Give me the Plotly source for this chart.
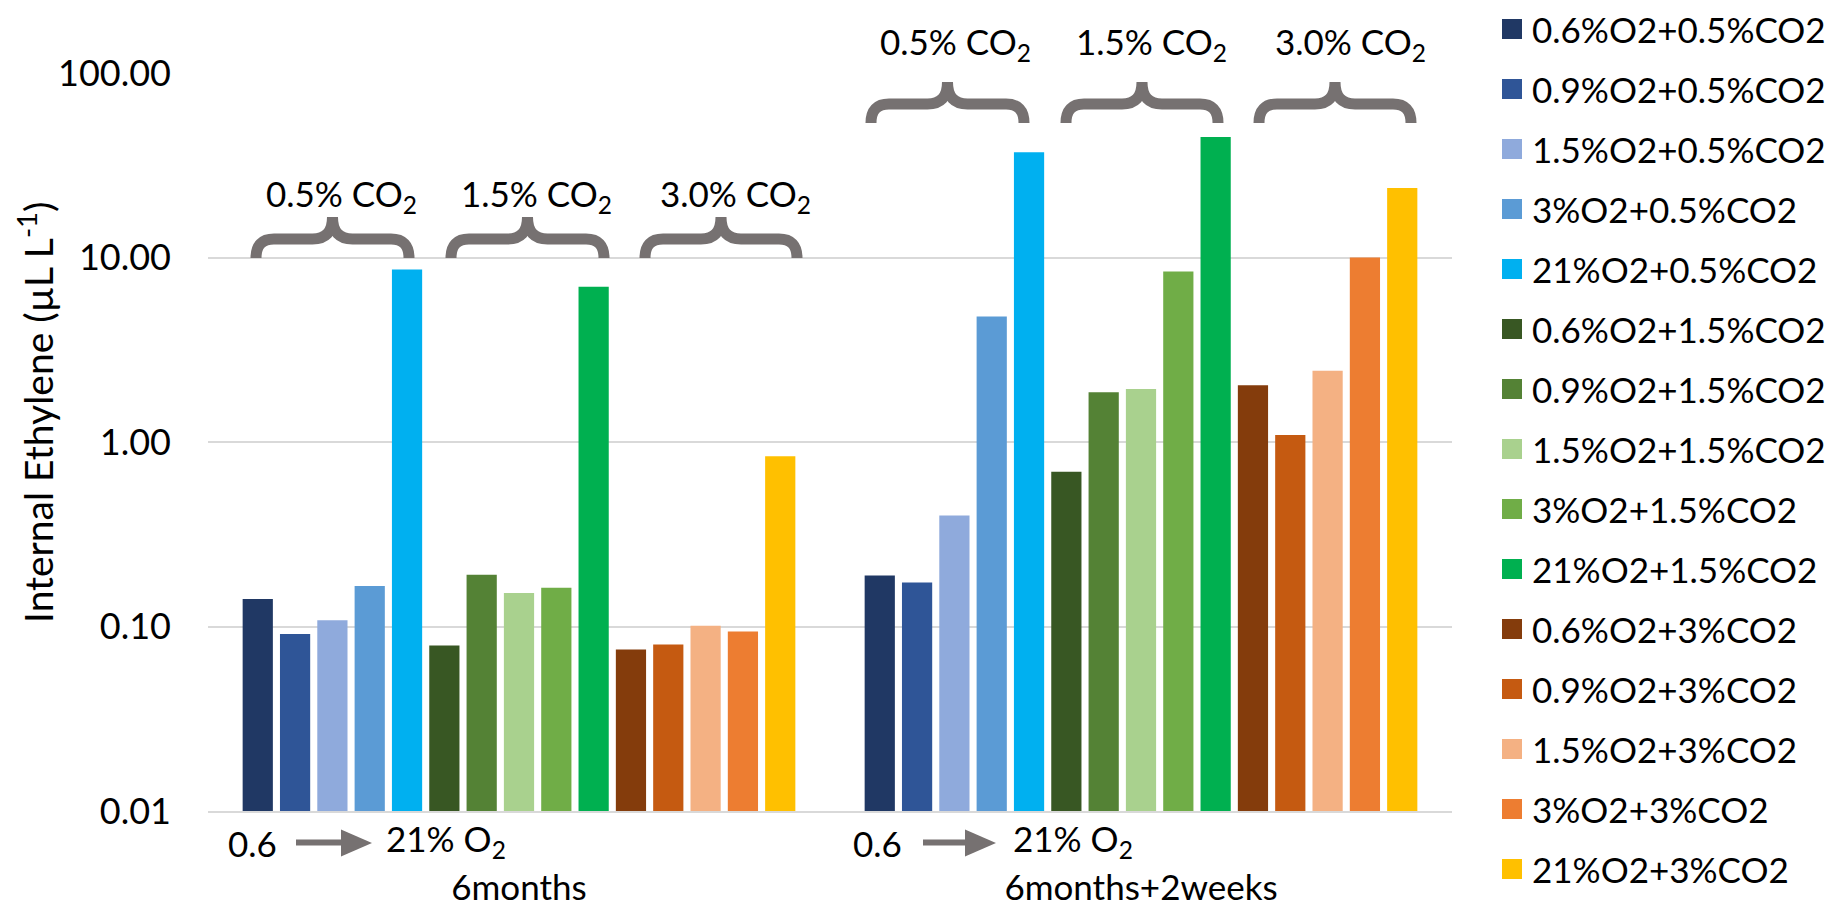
import plotly.graph_objects as go

# ---------------- data ----------------
categories = ["6months", "6months+2weeks"]
series_names = [
    "0.6%O2+0.5%CO2", "0.9%O2+0.5%CO2", "1.5%O2+0.5%CO2", "3%O2+0.5%CO2", "21%O2+0.5%CO2",
    "0.6%O2+1.5%CO2", "0.9%O2+1.5%CO2", "1.5%O2+1.5%CO2", "3%O2+1.5%CO2", "21%O2+1.5%CO2",
    "0.6%O2+3%CO2", "0.9%O2+3%CO2", "1.5%O2+3%CO2", "3%O2+3%CO2", "21%O2+3%CO2",
]
values_6months = [0.141, 0.091, 0.108, 0.166, 8.61,
                  0.079, 0.191, 0.152, 0.162, 6.94,
                  0.075, 0.080, 0.101, 0.094, 0.836]
values_6months_2weeks = [0.189, 0.173, 0.40, 4.79, 37.2,
                         0.69, 1.86, 1.94, 8.39, 45.0,
                         2.03, 1.09, 2.43, 10.0, 23.8]
series_colors = [
    "#203864", "#2F5597", "#8FAADC", "#5B9BD5", "#00B0F0",
    "#385723", "#548235", "#A9D18E", "#70AD47", "#00B050",
    "#843C0C", "#C55A11", "#F4B183", "#ED7D31", "#FFC000",
]
y_tick_values = [0.01, 0.1, 1, 10, 100]
y_tick_labels = ["0.01", "0.10", "1.00", "10.00", "100.00"]
co2_labels = ["0.5% CO<sub>2</sub>", "1.5% CO<sub>2</sub>", "3.0% CO<sub>2</sub>"]
y_title = "Internal Ethylene (µL L<sup>-1</sup>)"

# ---------------- layout geometry (page pixels) ----------------
OFF = 8                      # default body margin of the html page
FW, FH = 1845 - 2 * OFF, 917 - 2 * OFF
PL, PT, PW, PH = 208, 73, 1244, 738   # plot area in page pixels
ML = PL - OFF
MR = FW - ML - PW
FONT = "Lato, 'Open Sans', sans-serif"
GRAY = "#767171"


def px(x):
    return (x - OFF - ML) / PW


def py(y):
    return (FH - (y - OFF)) / FH


dom_bottom = py(PT + PH)
dom_top = py(PT)

fig = go.Figure()
for i, name in enumerate(series_names):
    fig.add_trace(go.Bar(
        x=categories,
        y=[values_6months[i], values_6months_2weeks[i]],
        name=name,
        legendgroup=name,
        showlegend=False,
        marker=dict(color=series_colors[i], line=dict(width=0)),
    ))
# legend entries (larger square swatches)
for i, name in enumerate(series_names):
    fig.add_trace(go.Scatter(
        x=[None], y=[None], mode="markers", name=name, legendgroup=name,
        marker=dict(symbol="square", size=16, color=series_colors[i],
                    line=dict(color=series_colors[i], width=4)),
        hoverinfo="skip",
    ))

shapes = []
annotations = []


def brace(x0, x1, ym, xc=None):
    if xc is None:
        xc = (x0 + x1) / 2
    yt, yb = ym - 22, ym + 19
    r, r2 = 18, 20
    pts = [
        ("M", [(x0, yb)]),
        ("Q", [(x0, ym), (x0 + r, ym)]),
        ("L", [(xc - r2, ym)]),
        ("Q", [(xc, ym), (xc, yt)]),
        ("Q", [(xc, ym), (xc + r2, ym)]),
        ("L", [(x1 - r, ym)]),
        ("Q", [(x1, ym), (x1, yb)]),
    ]
    path = " ".join(
        cmd + " " + " ".join(f"{px(a):.5f},{py(b):.5f}" for a, b in p) for cmd, p in pts
    )
    shapes.append(dict(type="path", xref="paper", yref="paper", path=path,
                       line=dict(color=GRAY, width=11), fillcolor="rgba(0,0,0,0)",
                       layer="above"))


# braces + CO2 labels, group 1
for (x0, x1) in [(256, 409), (451, 604), (645, 797)]:
    brace(x0, x1, 239)
for lab, tx in zip(co2_labels, [341, 536, 735]):
    annotations.append(dict(xref="paper", yref="paper", x=px(tx), y=py(196), text=lab,
                            showarrow=False, xanchor="center", yanchor="middle",
                            font=dict(family=FONT, size=35, color="black")))
# group 2
for (x0, x1) in [(871, 1024), (1066, 1218), (1259, 1411)]:
    brace(x0, x1, 104)
for lab, tx in zip(co2_labels, [955, 1151, 1350]):
    annotations.append(dict(xref="paper", yref="paper", x=px(tx), y=py(43), text=lab,
                            showarrow=False, xanchor="center", yanchor="middle",
                            font=dict(family=FONT, size=35, color="black")))

# O2 arrows under each group
for (c06, a0, a1, tleft) in [(252, 296, 372, 384), (878, 923, 996, 1011)]:
    annotations.append(dict(xref="paper", yref="paper", x=px(c06), y=py(843), text="0.6",
                            showarrow=False, xanchor="center", yanchor="middle",
                            font=dict(family=FONT, size=35, color="black")))
    annotations.append(dict(xref="paper", yref="paper", x=px(tleft), y=py(840),
                            text="21% O<sub>2</sub>",
                            showarrow=False, xanchor="left", yanchor="middle",
                            font=dict(family=FONT, size=35, color="black")))
    shapes.append(dict(type="line", xref="paper", yref="paper",
                       x0=px(a0), x1=px(a1 - 28), y0=py(842.5), y1=py(842.5),
                       line=dict(color=GRAY, width=6)))
    shapes.append(dict(type="path", xref="paper", yref="paper",
                       path=f"M {px(a1-31):.5f},{py(829.5):.5f} L {px(a1):.5f},{py(843):.5f} "
                            f"L {px(a1-31):.5f},{py(856.5):.5f} Z",
                       line=dict(width=0), fillcolor=GRAY))

# y-axis title (rotated text, placed as in the reference)
annotations.append(dict(xref="paper", yref="paper", x=px(35), y=py(413), text=y_title,
                        textangle=-90, showarrow=False, xanchor="center", yanchor="middle",
                        font=dict(family=FONT, size=39, color="black")))

fig.update_layout(
    width=FW, height=FH,
    margin=dict(l=ML, r=MR, t=0, b=0, pad=0, autoexpand=False),
    paper_bgcolor="white", plot_bgcolor="white",
    barmode="group", bargap=0.1, bargroupgap=0.19,
    font=dict(family=FONT, size=35, color="black"),
    shapes=shapes, annotations=annotations,
    legend=dict(x=px(1492), y=py(449.3), xanchor="left", yanchor="middle",
                font=dict(family=FONT, size=35, color="black"),
                tracegroupgap=11.5, bgcolor="rgba(0,0,0,0)", itemsizing="trace"),
    xaxis=dict(showgrid=False, showline=True, linecolor="#d9d9d9", linewidth=2,
               ticks="", ticklabelstandoff=45,
               tickfont=dict(family=FONT, size=35, color="black")),
    yaxis=dict(type="log", range=[-2, 2], tickmode="array", domain=[dom_bottom, dom_top],
               tickvals=y_tick_values, ticktext=y_tick_labels,
               showgrid=True, gridcolor="#d9d9d9", gridwidth=2,
               zeroline=False, showline=False, ticks="", ticklabelstandoff=36,
               tickfont=dict(family=FONT, size=36, color="black")),
)

fig.write_html("out.html")
